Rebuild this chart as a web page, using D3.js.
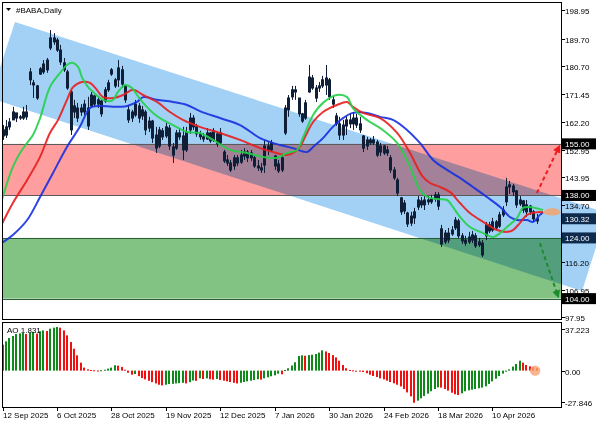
<!DOCTYPE html>
<html><head><meta charset="utf-8">
<script src="https://cdn.jsdelivr.net/npm/d3@7"></script>
<style>html,body{margin:0;padding:0;background:#fff;} svg{display:block;font-family:"Liberation Sans",Arial,sans-serif;}</style>
</head><body><svg id="c" width="596" height="425"></svg>
<script>
// ---------- DATA ----------
const symbolTitle = "#BABA,Daily";
const tickIdx = [0,16,32,48,64,80,96,112,128,144];
const tickLabels = ["12 Sep 2025","6 Oct 2025","28 Oct 2025","19 Nov 2025","12 Dec 2025","7 Jan 2026","30 Jan 2026","24 Feb 2026","18 Mar 2026","10 Apr 2026"];
const priceTicks = [198.95,189.70,180.70,171.45,162.20,152.95,143.95,134.70,125.45,116.20,106.95,97.95];
const aoTicks = [37.223, 0, -27.846];
const aoTickLabels = ["37.223","0.00","-27.846"];

const open = [157.6,157.9,160.6,162.9,165.2,163.9,163.5,165.5,176.1,175.1,174.1,178.0,178.7,179.4,186.6,189.9,189.2,185.9,181.7,178.7,
172.1,165.5,163.5,166.8,165.5,160.9,167.5,170.8,168.1,169.1,169.1,172.8,178.0,176.1,176.1,179.4,174.1,162.9,165.5,164.5,
167.5,164.2,165.5,160.2,162.5,157.9,154.3,159.3,157.6,160.2,154.0,153.6,158.6,157.6,153.0,159.6,163.5,160.6,158.3,157.3,
156.6,158.6,156.3,158.3,155.3,152.3,149.7,148.7,147.7,150.4,149.0,151.0,152.3,150.4,150.4,147.7,147.1,148.0,154.3,153.0,
151.0,148.4,146.4,158.6,166.2,170.5,172.1,170.1,164.9,163.5,172.1,176.7,170.1,173.4,174.1,174.4,176.1,168.1,164.2,161.6,
157.9,160.9,162.9,161.6,163.5,161.6,157.6,154.3,156.3,155.3,155.6,152.3,154.3,152.0,150.4,146.4,143.1,137.2,135.5,132.2,
128.9,130.6,134.2,136.2,134.9,136.5,135.9,136.8,138.2,127.0,125.6,123.3,125.3,127.3,129.6,124.7,123.3,122.7,123.3,124.7,
121.7,122.3,124.7,128.3,126.6,129.3,127.9,131.6,135.9,140.8,141.1,139.5,135.2,136.2,132.6,134.5,132.6,129.6];
const high = [161.2,162.9,163.5,167.2,165.2,164.5,167.2,167.8,180.0,176.1,174.4,180.3,182.6,183.3,192.5,191.5,189.9,187.6,183.3,179.4,
172.8,169.5,168.5,168.1,169.5,170.5,172.1,171.1,170.8,169.5,173.7,176.1,180.0,176.7,182.6,180.7,174.7,167.8,166.2,169.5,
168.5,167.5,166.2,163.9,162.9,160.6,160.6,160.2,161.9,161.2,155.3,159.6,160.2,160.6,160.6,165.2,164.5,161.6,159.3,158.6,
160.2,158.9,160.2,158.9,160.2,153.0,151.3,149.7,151.3,151.3,153.0,153.6,153.0,153.0,151.0,149.7,148.7,156.3,155.6,156.3,
151.3,149.7,151.3,167.8,171.1,174.1,174.1,170.1,165.2,169.5,181.0,177.7,174.4,175.4,177.4,181.0,176.7,170.8,165.2,163.9,
162.9,164.2,165.2,165.5,164.9,163.9,157.9,157.3,156.9,157.6,156.3,155.3,154.6,154.3,151.3,147.4,143.8,137.5,136.5,132.6,
132.6,133.9,137.8,137.5,137.8,137.8,138.2,139.1,139.1,128.3,126.6,127.3,127.9,130.9,130.3,125.6,124.7,126.0,126.3,125.6,
124.0,123.3,129.3,129.3,130.6,129.9,132.6,134.5,143.8,142.8,141.8,139.8,137.8,136.5,136.5,134.9,133.2,131.9];
const low = [156.3,156.9,159.6,162.9,162.2,162.9,162.9,162.9,174.4,170.1,169.5,177.7,178.0,178.4,185.9,187.6,185.3,181.0,178.7,172.8,
157.9,163.5,162.2,164.2,164.5,159.6,167.2,167.2,166.8,163.9,168.5,172.1,177.4,173.4,173.7,173.4,168.5,161.9,162.2,163.9,
161.9,162.9,157.9,158.9,155.3,152.0,153.6,156.3,156.9,153.0,148.7,153.0,156.3,149.7,152.3,158.3,159.6,157.3,156.3,155.6,
156.3,155.3,155.6,154.0,154.6,148.7,147.7,145.7,146.4,147.7,148.4,149.7,149.0,149.4,147.1,146.1,145.4,145.4,151.3,152.3,
146.4,145.4,145.7,157.9,163.9,169.5,169.5,163.9,161.9,162.9,171.8,172.8,168.8,172.1,173.4,171.1,169.5,166.8,160.9,156.3,
156.3,157.9,160.2,159.6,160.2,158.6,152.3,153.0,154.6,154.6,150.7,151.0,151.3,151.0,145.4,143.1,137.8,131.6,131.9,127.6,
127.9,128.6,133.2,133.9,133.2,134.9,135.2,135.9,133.2,121.0,122.0,122.3,124.7,126.6,124.0,122.0,121.4,122.0,122.3,120.7,
121.0,117.7,123.3,125.6,126.0,126.6,127.3,130.9,134.5,138.5,137.8,133.9,134.5,132.2,130.9,131.6,129.3,128.6];
const close = [159.6,160.6,162.2,165.5,163.5,163.5,165.5,163.9,178.7,174.4,170.1,179.7,181.3,182.6,189.9,188.6,185.9,182.0,179.4,173.4,
159.6,167.5,166.8,165.5,168.1,166.8,171.1,168.1,169.5,164.9,172.8,175.1,179.4,174.1,180.0,174.7,169.5,166.2,163.5,168.1,
163.5,166.2,159.6,162.5,156.9,153.6,159.6,157.3,160.6,154.3,151.3,158.6,157.3,153.0,158.9,163.5,160.6,158.3,157.3,156.6,
158.6,156.0,159.3,155.0,158.6,149.4,148.7,146.4,150.4,148.7,151.3,152.3,150.4,152.0,147.7,147.1,146.4,154.3,153.0,155.3,
147.7,146.1,150.4,166.8,170.1,172.8,172.8,164.9,162.5,168.5,177.0,173.4,173.4,174.1,176.1,176.7,170.5,169.5,161.6,157.9,
161.2,162.9,161.6,163.5,161.2,159.6,153.6,156.3,155.3,156.3,151.3,154.3,152.0,153.0,146.4,143.8,138.8,132.6,132.9,128.6,
131.2,132.6,136.5,134.9,136.5,135.9,136.8,138.2,134.5,122.0,122.7,125.6,126.6,129.9,124.7,123.0,122.3,124.3,125.0,121.4,
122.7,118.4,128.3,126.3,129.3,127.3,131.6,133.2,140.8,141.5,139.2,134.9,136.5,133.2,134.9,132.6,130.3,130.32];

const ao = [19.9,22.4,25.0,26.5,28.0,28.5,28.8,28.0,29.0,29.6,
28.3,30.1,30.8,30.3,32.1,32.9,33.4,32.9,30.8,27.0,
21.9,16.8,11.7,6.1,2.3,1.0,0.5,0.3,0.1,0.3,
0.7,1.5,2.3,4.1,3.8,2.8,0.7,-1.6,-3.1,-2.6,
-4.2,-5.7,-6.7,-7.8,-8.8,-9.8,-10.8,-11.3,-10.8,-10.3,
-10.1,-9.8,-9.6,-9.3,-9.8,-8.8,-7.5,-7.8,-5.9,-6.4,
-5.9,-6.6,-6.9,-6.4,-7.2,-7.7,-8.2,-8.7,-9.3,-9.8,
-9.3,-8.7,-8.2,-7.7,-7.2,-6.6,-6.9,-5.9,-5.1,-4.3,
-3.6,-2.3,-2.8,0.5,1.8,3.9,6.4,11.2,11.7,11.4,
11.9,12.2,12.7,13.8,15.5,14.7,13.5,11.9,10.1,7.6,
4.3,1.8,0.5,0.2,0.0,-0.3,-1.0,-2.0,-3.1,-4.1,
-4.9,-5.9,-6.7,-7.7,-8.7,-9.7,-10.8,-12.1,-14.1,-16.7,
-19.7,-24.6,-23.0,-21.2,-19.4,-17.6,-15.8,-14.1,-12.8,-13.0,
-14.1,-15.3,-16.9,-18.1,-18.7,-17.4,-15.8,-15.1,-14.6,-14.1,
-13.5,-13.0,-12.0,-10.2,-8.2,-6.2,-4.1,-2.3,-0.8,1.0,
3.1,5.1,7.6,6.1,4.3,3.3,2.6,1.831];

// Alligator-style lines (bar index, price)
const lipsIdx = [-0.8,1.3,3,5.1,7.2,8.9,11,13.9,16.9,18.9,20.4,22.2,23.3,25.1,26.6,28.6,30.7,32.4,33.9,36,38,39.5,41.3,44.2,47.1,50.1,54.2,58,61.9,66.9,71.9,76.6,80.7,83.6,86.6,88.3,91.3,94.2,98.3,101.3,103,107.1,111,116,119.8,122.7,124.8,127.7,130.7,132.4,134.5,137.4,141.3,144.2,146.3,148.3,151.3,153,155.1,158,158.9];
const lipsVal = [134.2,142.1,147.4,152.0,155.3,157.9,163.5,173.7,178.4,181.0,181.7,180.3,177.0,173.7,172.1,170.1,169.1,169.4,172.1,174.4,173.4,171.1,168.5,165.2,162.9,161.2,158.9,158.6,156.3,153.0,152.0,150.7,150.4,152.0,153.0,157.0,164.5,168.5,171.1,170.4,166.8,162.9,160.2,155.3,147.4,139.8,137.5,136.8,136.5,134.2,130.9,127.6,125.6,124.3,125.6,127.6,130.6,133.9,134.2,133.5,133.2];
const teethIdx = [-0.8,3,7.2,11,13.9,16.3,18.9,20.7,23.3,25.7,27.7,29.5,32.4,35.4,38.3,41.3,45.4,49.2,53,58,63.9,69.8,75.7,79.5,83.6,85.4,87.4,89.5,91.3,94.2,98.3,101.3,103,106,111,116,119.8,123.6,125.7,128.6,131.6,134.5,137.4,141.3,145.4,148.3,150.1,152.1,154.2,157.1,158.9];
const teethVal = [127.3,135.5,143.1,150.7,158.6,162.9,169.5,173.7,175.4,175.1,172.8,170.4,170.1,171.1,172.8,171.1,168.8,165.5,162.9,160.6,158.6,156.3,153.6,152.3,151.3,152.0,154.0,158.6,162.2,165.5,167.8,168.8,167.2,165.2,163.5,158.6,152.0,144.1,142.1,140.8,139.1,135.5,132.2,129.3,126.6,126.0,126.6,128.9,131.6,132.5,132.5];
const jawIdx = [-0.8,3,7.2,11,14.8,18.9,22.7,25.7,28.6,32.4,36.6,39.5,41.3,45.4,50.1,54.2,58,63.9,69.8,75.7,81.6,85.4,89.5,91.3,94.2,97.1,100.1,103,107.1,111,114.8,118.9,122.7,126.6,130.7,134.5,138.3,142.4,146.3,149.2,151.3,154.2,156,158,158.9];
const jawVal = [122.0,125.0,129.9,137.5,145.4,154.0,160.6,166.8,167.5,167.2,167.5,168.8,170.4,169.5,168.8,167.8,165.8,163.5,161.2,156.9,154.6,153.6,152.3,154.0,156.9,160.6,163.5,165.2,165.2,163.9,162.9,159.6,155.3,149.7,146.4,143.8,140.8,137.5,134.2,130.9,129.9,129.9,129.3,131.6,132.5];

// Zones, levels and drawings
const sellZone = [138.00, 155.00];
const buyZone = [104.00, 124.00];
const levelValues = [155.00, 138.00, 124.00, 104.00];
const channelIdx = [3.62, 177.7, 170.4, -3.74];
const channelVal = [195.16, 132.2, 106.5, 170.1];
const arrowUpIdx = [157.1, 163.6];
const arrowUpVal = [138.8, 154.0];
const arrowDnIdx = [158.0, 163.3];
const arrowDnVal = [122.3, 104.9];
const markerIdx = 161.6, markerVal = 132.56;
const aoMarkerIdx = 156.6;

// ---------- DRAW ----------
const svg = d3.select("#c");
const W = 596, H = 425;
const L = 2, R = 561, T = 2, B = 320, AT = 322, AB = 407;
const x = d3.scaleLinear().domain([-0.2, 164.2]).range([L, R]);
const y = d3.scaleLinear().domain([96.96, 201.74]).range([B, T]);
const ya = d3.scaleLinear().domain([-27.846, 37.223]).range([AB, AT]);

svg.append("rect").attr("width", W).attr("height", H).attr("fill", "#fff");
const defs = svg.append("defs");
defs.append("clipPath").attr("id","cm").append("rect").attr("x",L).attr("y",T).attr("width",R-L).attr("height",B-T);
defs.append("clipPath").attr("id","ca").append("rect").attr("x",L).attr("y",AT).attr("width",R-L).attr("height",AB-AT);
function mk(id, color){
  defs.append("marker").attr("id",id).attr("viewBox","0 0 10 10").attr("refX",7).attr("refY",5)
    .attr("markerWidth",4).attr("markerHeight",4).attr("orient","auto").attr("markerUnits","strokeWidth")
    .append("path").attr("d","M0,0L10,5L0,10z").attr("fill",color);
}
mk("ar","#ee1c1c"); mk("ag","#1d8a2e");

// zones (drawn directly on the root so that the channel can blend over them)
svg.append("rect").attr("x",L).attr("width",R-L).attr("y",y(sellZone[1])).attr("height",y(sellZone[0])-y(sellZone[1])).attr("fill","#ff9e9e");
svg.append("rect").attr("x",L).attr("width",R-L).attr("y",y(buyZone[1])).attr("height",y(buyZone[0])-y(buyZone[1])).attr("fill","#82c282");

// channel (multiply blend, not inside a clipped group)
const chPts = channelIdx.map((d,i)=>[x(d), y(channelVal[i])]);
svg.append("path")
  .attr("d", d3.line()(chPts) + "Z")
  .attr("fill","#a3d1f6").style("mix-blend-mode","multiply");

const gm = svg.append("g").attr("clip-path","url(#cm)");
// level lines
levelValues.forEach((v,i)=>{
  gm.append("line").attr("x1",L).attr("x2",R).attr("y1",Math.round(y(v))+0.5).attr("y2",Math.round(y(v))+0.5)
    .attr("stroke", i<2 ? "#5a5a5a" : "#2a5e34").attr("stroke-width",1);
});

// candles
const cc = "#0f1f38";
const gc = gm.append("g");
close.forEach((c,i)=>{
  const px = Math.round(x(i));
  gc.append("line").attr("x1",px+0.5).attr("x2",px+0.5).attr("y1",y(high[i])).attr("y2",y(low[i])).attr("stroke",cc).attr("stroke-width",1);
  const o = open[i];
  const top = y(Math.max(o,c)), bot = y(Math.min(o,c));
  const h = Math.max(1, bot-top);
  if (c >= o) {
    gc.append("rect").attr("x",px-0.5).attr("y",top).attr("width",2).attr("height",h).attr("fill","none").attr("stroke",cc).attr("stroke-width",1);
  } else {
    gc.append("rect").attr("x",px-1).attr("y",top-0.5).attr("width",3).attr("height",h+1).attr("fill",cc);
  }
});

// moving average lines
const ln = d3.line().x(d=>x(d[0])).y(d=>y(d[1])).curve(d3.curveCatmullRom.alpha(0.5));
function drawLine(idx, val, color){
  gm.append("path").attr("d", ln(idx.map((d,i)=>[d,val[i]]))).attr("fill","none")
    .attr("stroke",color).attr("stroke-width",2).attr("stroke-linejoin","round").attr("opacity",0.9);
}
drawLine(jawIdx, jawVal, "#1530e0");
drawLine(teethIdx, teethVal, "#e81e1e");
drawLine(lipsIdx, lipsVal, "#22d048");

// arrows
svg.append("line").attr("x1",x(arrowUpIdx[0])).attr("y1",y(arrowUpVal[0])).attr("x2",x(arrowUpIdx[1])).attr("y2",y(arrowUpVal[1]))
  .attr("stroke","#ee1c1c").attr("stroke-width",2).attr("stroke-dasharray","4,3").attr("marker-end","url(#ar)");
svg.append("line").attr("x1",x(arrowDnIdx[0])).attr("y1",y(arrowDnVal[0])).attr("x2",x(arrowDnIdx[1])).attr("y2",y(arrowDnVal[1]))
  .attr("stroke","#1d8a2e").attr("stroke-width",2).attr("stroke-dasharray","4,3").attr("marker-end","url(#ag)");
// marker ellipse
svg.append("ellipse").attr("cx",x(markerIdx)).attr("cy",y(markerVal)).attr("rx",8.5).attr("ry",3.6)
  .attr("fill","#f5a36b").attr("opacity",0.85);

// AO bars
const ga = svg.append("g").attr("clip-path","url(#ca)");
ao.forEach((v,i)=>{
  const up = i===0 ? true : v > ao[i-1];
  const px = Math.round(x(i));
  const y0 = ya(0), y1 = ya(v);
  const t = Math.min(y0,y1), h = Math.max(1, Math.abs(y1-y0));
  ga.append("rect").attr("x",px-1).attr("y",t).attr("width",2).attr("height",h).attr("fill", up ? "#0f8a1a" : "#f01010");
});
svg.append("circle").attr("cx",x(aoMarkerIdx)).attr("cy",ya(0)).attr("r",5.2).attr("fill","#f7a070").attr("opacity",0.8);

// frames
svg.append("rect").attr("x",L+0.5).attr("y",T+0.5).attr("width",R-L).attr("height",B-T-1).attr("fill","none").attr("stroke","#000");
svg.append("rect").attr("x",L+0.5).attr("y",AT+0.5).attr("width",R-L).attr("height",AB-AT).attr("fill","none").attr("stroke","#000");

// right axis ticks & labels
const fs = 8;
priceTicks.forEach(v=>{
  const yy = Math.round(y(v))+0.5;
  svg.append("line").attr("x1",R+1).attr("x2",R+4).attr("y1",yy).attr("y2",yy).attr("stroke","#000");
  svg.append("text").attr("x",565).attr("y",yy+3).attr("font-size",fs).attr("fill","#000").text(v.toFixed(2));
});
aoTicks.forEach((v,i)=>{
  let yy = ya(v);
  if (i===0) yy = AT+7; if (i===2) yy = AB-5;
  yy = Math.round(yy)+0.5;
  svg.append("line").attr("x1",R+1).attr("x2",R+4).attr("y1",yy).attr("y2",yy).attr("stroke","#000");
  svg.append("text").attr("x",565).attr("y",yy+3).attr("font-size",fs).attr("fill","#000").text(aoTickLabels[i]);
});
// level value boxes
const lastPrice = close[close.length-1];
const boxes = [[155.00,"#000"],[138.00,"#000"],[lastPrice,"#0e2a4c"],[124.00,"#0e2a4c"],[104.00,"#000"]];
boxes.forEach(([v,col])=>{
  const yy = y(v);
  svg.append("rect").attr("x",R+1).attr("y",yy-5.5).attr("width",34).attr("height",11).attr("fill",col);
  svg.append("text").attr("x",565).attr("y",yy+3).attr("font-size",fs).attr("fill","#fff").text(v.toFixed(2));
});

// date axis
tickIdx.forEach((d,i)=>{
  const px = Math.round(x(d))+0.5;
  svg.append("line").attr("x1",px).attr("x2",px).attr("y1",AB).attr("y2",AB+4).attr("stroke","#000");
  svg.append("text").attr("x",px-0.5).attr("y",418).attr("font-size",fs).attr("fill","#000").text(tickLabels[i]);
});

// titles
svg.append("path").attr("d","M6,8L11,8L8.5,11Z").attr("fill","#000");
svg.append("text").attr("x",16).attr("y",13).attr("font-size",fs).attr("fill","#000").text(symbolTitle);
svg.append("text").attr("x",7).attr("y",333).attr("font-size",fs).attr("fill","#000").text("AO " + ao[ao.length-1].toFixed(3));
</script></body></html>
